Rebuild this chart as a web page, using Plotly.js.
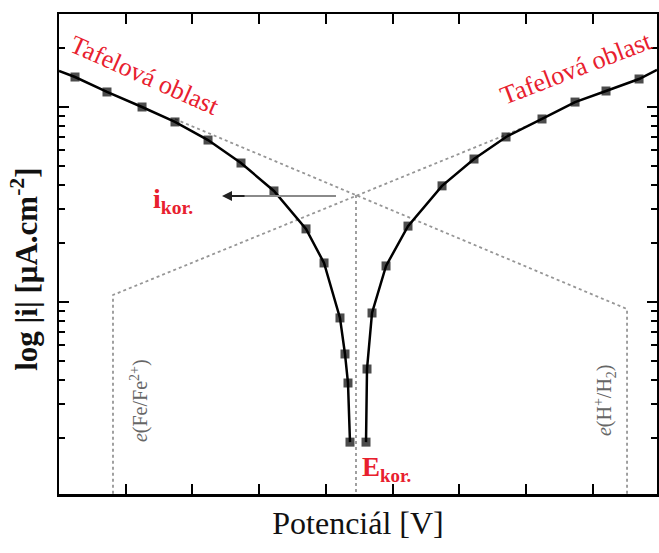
<!DOCTYPE html>
<html>
<head>
<meta charset="utf-8">
<script src="https://cdn.plot.ly/plotly-3.0.1.min.js"></script>
<style>html,body{margin:0;padding:0;background:#fff;}#chart{width:659px;height:553px;}</style>
</head>
<body>
<div id="chart"></div>
<script>
// Anodic / cathodic polarisation branches (potential in arbitrary units, current density in µA.cm^-2)
const potentialLeft = [0, 0.240, 0.719, 1.244, 1.738, 2.233, 2.727, 3.221, 3.701, 3.971, 4.210, 4.285, 4.330, 4.360];
const currentLeft   = [15.3, 14.25, 11.94, 10.0, 8.38, 6.77, 5.16, 3.71, 2.37, 1.585, 0.828, 0.541, 0.384, 0.191];
const markerLeft    = [0, 9, 9, 9, 9, 9, 9, 9, 9, 9, 9, 9, 9, 9];
const potentialRight = [4.600, 4.615, 4.690, 4.900, 5.229, 5.739, 6.218, 6.698, 7.237, 7.732, 8.196, 8.691, 8.96];
const currentRight   = [0.191, 0.453, 0.878, 1.53, 2.45, 3.94, 5.41, 7.02, 8.68, 10.6, 12.08, 13.92, 15.5];
const markerRight    = [9, 9, 9, 9, 9, 9, 9, 9, 9, 9, 9, 9, 0];

// Tafel extrapolation lines
const tafelAPot = [1.738, 8.511, 8.511];
const tafelACur = [8.67, 0.920, 0.09];
const tafelBPot = [0.809, 0.809, 7.057];
const tafelBCur = [0.09, 1.086, 8.09];
const ekorPot = [4.450, 4.450];
const ekorCur = [3.54, 0.09];

// i_kor arrow (potential span, current level)
const arrowPot = [2.442, 4.15];
const arrowCur = 3.50;

// Label texts
const tafelLabel = 'Tafelová oblast';
const ikorLabel = '<b>i<sub>kor.</sub></b>';
const ekorLabel = '<b>E<sub>kor.</sub></b>';
const feLabel = '<i>e</i>(Fe/Fe<sup>2+</sup>)';
const hLabel = '<i>e</i>(H<sup>+</sup>/H<sub>2</sub>)';
const xTitle = 'Potenciál [V]';
const yTitle = '<b>log |i| [μA.cm<sup>-2</sup>]</b>';

const serif = 'Liberation Serif, Times New Roman, serif';
const red = '#e8202e';
const dotted = {color: '#969696', width: 1.8, dash: 'dot'};

const traces = [
  {x: tafelAPot, y: tafelACur, mode: 'lines', line: dotted, hoverinfo: 'skip', showlegend: false},
  {x: tafelBPot, y: tafelBCur, mode: 'lines', line: dotted, hoverinfo: 'skip', showlegend: false},
  {x: ekorPot, y: ekorCur, mode: 'lines', line: dotted, hoverinfo: 'skip', showlegend: false},
  {x: potentialLeft, y: currentLeft, mode: 'lines+markers', showlegend: false,
   line: {color: '#000', width: 2.5},
   marker: {symbol: 'square', size: markerLeft, color: '#000', line: {color: '#000', width: 0}}},
  {x: potentialRight, y: currentRight, mode: 'lines+markers', showlegend: false,
   line: {color: '#000', width: 2.5},
   marker: {symbol: 'square', size: markerRight, color: '#000', line: {color: '#000', width: 0}}}
];

const axisCommon = {
  showgrid: false, zeroline: false, showline: true, linecolor: '#000', linewidth: 2.5,
  mirror: 'ticks', ticks: 'inside', ticklen: 10, tickwidth: 2, tickcolor: '#000',
  showticklabels: false
};

const layout = {
  width: 659, height: 553,
  margin: {l: 59, r: 2, t: 14, b: 59},
  paper_bgcolor: '#fff', plot_bgcolor: '#fff',
  showlegend: false,
  xaxis: Object.assign({}, axisCommon, {
    range: [0, 8.96], tick0: 0, dtick: 1,
    title: {text: xTitle, font: {family: serif, size: 32, color: '#111'}, standoff: 16}
  }),
  yaxis: Object.assign({}, axisCommon, {
    type: 'log', range: [-0.985, 1.477], dtick: 1,
    minor: {ticks: 'inside', ticklen: 6, tickwidth: 2, tickcolor: '#000', dtick: 'D1', showgrid: false}
  }),
  shapes: [
    {type: 'line', xref: 'x', yref: 'y', x0: arrowPot[0] + 0.18, x1: arrowPot[1], y0: arrowCur, y1: arrowCur,
     line: {color: '#8a8a8a', width: 2}}
  ],
  annotations: [
    {x: arrowPot[0], y: Math.log10(arrowCur), ax: arrowPot[0] + 0.36, ay: Math.log10(arrowCur),
     axref: 'x', ayref: 'y', xref: 'x', yref: 'y',
     text: '', showarrow: true, arrowhead: 2, arrowsize: 1, arrowwidth: 2, arrowcolor: '#222'},
    {x: 1.29, y: 1.164, xref: 'x', yref: 'y', text: tafelLabel, showarrow: false, textangle: 24,
     font: {family: serif, size: 26, color: red}},
    {x: 7.74, y: 1.20, xref: 'x', yref: 'y', text: tafelLabel, showarrow: false, textangle: -21,
     font: {family: serif, size: 26, color: red}},
    {x: 1.708, y: 0.518, xref: 'x', yref: 'y', text: ikorLabel, showarrow: false,
     font: {family: serif, size: 28, color: red}},
    {x: 4.900, y: -0.856, xref: 'x', yref: 'y', text: ekorLabel, showarrow: false,
     font: {family: serif, size: 27, color: red}},
    {x: 1.20, y: -0.508, xref: 'x', yref: 'y', text: feLabel, showarrow: false, textangle: -90,
     font: {family: serif, size: 20, color: '#666'}},
    {x: 8.181, y: -0.503, xref: 'x', yref: 'y', text: hLabel, showarrow: false, textangle: -90,
     font: {family: serif, size: 20, color: '#666'}},
    {x: -0.0569, y: 0.469, xref: 'paper', yref: 'paper', xanchor: 'center', yanchor: 'middle',
     text: yTitle, showarrow: false, textangle: -90,
     font: {family: serif, size: 31, color: '#111'}}
  ]
};

Plotly.newPlot('chart', traces, layout, {staticPlot: true, displayModeBar: false});
</script>
</body>
</html>
